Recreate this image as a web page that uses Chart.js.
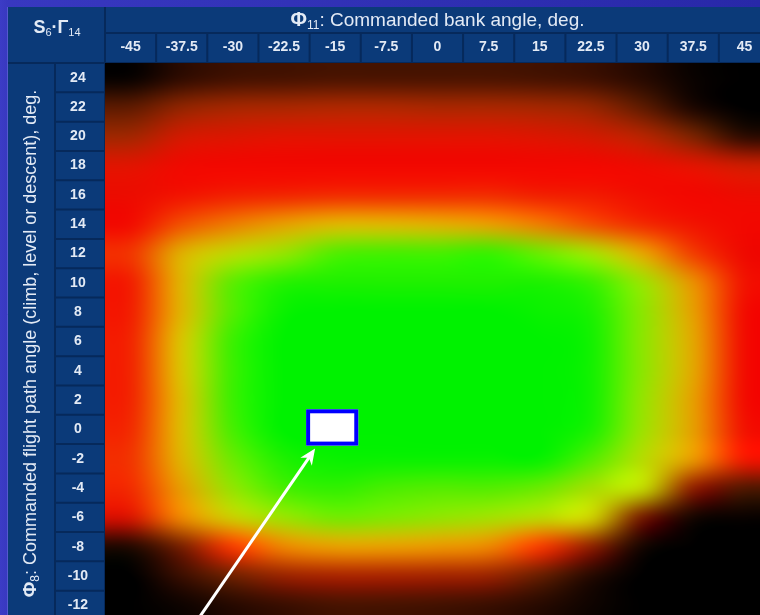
<!DOCTYPE html>
<html>
<head>
<meta charset="utf-8">
<script src="https://cdn.jsdelivr.net/npm/chart.js@4.4.1/dist/chart.umd.min.js"></script>
<style>
  html, body {
    margin: 0; padding: 0; width: 760px; height: 615px; overflow: hidden;
    background: linear-gradient(90deg, #3c3cc6 0px, #3838c0 8px, #2828a8 100%);
  }
  #wrap { position: absolute; left: 0; top: 0; width: 772px; height: 622px; }
</style>
</head>
<body>
<div id="wrap"><canvas id="chart" width="772" height="622"></canvas></div>
<script>
// Φ11: commanded bank angle (columns) and Φ8: commanded flight path angle (rows)
const bankAngles = ['-45', '-37.5', '-30', '-22.5', '-15', '-7.5', '0', '7.5', '15', '22.5', '30', '37.5', '45'];
const pathAngles = ['24', '22', '20', '18', '16', '14', '12', '10', '8', '6', '4', '2', '0', '-2', '-4', '-6', '-8', '-10', '-12'];

// S6·Γ14 score for each cell (0 = worst, 100 = best); one row per flight path angle, columns follow bankAngles
const scores = [
  [ 2, 10, 14, 15, 16, 16, 16, 16, 15, 13,  8,  2,  0],  // 24
  [20, 30, 34, 35, 36, 36, 35, 35, 34, 31, 20,  6,  0],  // 22
  [34, 43, 45, 46, 46, 46, 46, 46, 45, 43, 38, 26, 10],  // 20
  [46, 51, 52, 52, 52, 52, 52, 52, 52, 52, 50, 46, 42],  // 18
  [50, 54, 56, 57, 58, 58, 58, 58, 56, 55, 53, 52, 50],  // 16
  [53, 62, 67, 71, 74, 74, 73, 71, 67, 62, 58, 54, 52],  // 14
  [59, 73, 81, 86, 92, 93, 93, 94, 90, 84, 72, 60, 51],  // 12
  [56, 74, 91, 96, 97, 97, 97, 97, 97, 94, 85, 69, 54],  // 10
  [56, 74, 92, 99,100,100,100,100, 99, 97, 87, 71, 53],  // 8
  [57, 76, 94,100,100,100,100,100,100, 98, 87, 72, 53],  // 6
  [57, 76, 94,100,100,100,100,100,100, 98, 87, 72, 53],  // 4
  [57, 75, 94,100,100,100,100,100,100, 98, 86, 71, 53],  // 2
  [58, 75, 93,100,100,100,100,100,100, 97, 85, 71, 54],  // 0
  [59, 74, 90, 97, 99, 99, 99, 99, 99, 92, 82, 70, 55],  // -2
  [58, 71, 86, 93, 95, 93, 92, 92, 90, 84, 80, 30, 18],  // -4
  [44, 68, 78, 85, 89, 88, 86, 84, 81, 78, 25,  5,  2],  // -6
  [ 8, 26, 60, 68, 71, 71, 70, 68, 60, 30,  5,  0,  0],  // -8
  [ 0, 12, 24, 32, 35, 35, 34, 32, 22,  8,  0,  0,  0],  // -10
  [ 0,  3,  8, 12, 15, 15, 14, 12,  8,  3,  0,  0,  0]   // -12
];

// the selected operating point
const selectedCell = { bank: '-15', path: '0' };

// colour ramp: black → dark red → red → orange → yellow → green
const rampStops  = [0, 12, 24, 36, 46, 52, 58, 64, 70, 76, 82, 88, 94, 100];
const rampColors = [[0,0,0],[58,14,0],[112,32,0],[172,38,0],[224,20,0],[242,8,0],[242,45,0],
                    [240,100,0],[232,150,0],[215,195,0],[180,220,0],[130,232,0],[60,240,0],[0,242,0]];

const FONT = '"Liberation Sans", Arial, Helvetica, sans-serif';
const TEXT = '#e3eaf5';
const HEADER_FILL = '#0b3a79';
const HEADER_LINE = '#06295b';

function rampColor(v) {
  if (v <= rampStops[0]) return rampColors[0].slice();
  for (let i = 1; i < rampStops.length; i++) {
    if (v <= rampStops[i]) {
      const t = (v - rampStops[i - 1]) / (rampStops[i] - rampStops[i - 1]);
      const a = rampColors[i - 1], b = rampColors[i];
      return [a[0] + (b[0] - a[0]) * t, a[1] + (b[1] - a[1]) * t, a[2] + (b[2] - a[2]) * t];
    }
  }
  return rampColors[rampColors.length - 1].slice();
}

const cells = [];
pathAngles.forEach((p, r) => bankAngles.forEach((b, c) => cells.push({ x: b, y: p, v: scores[r][c] })));

function cellGeometry(chart) {
  const { x, y } = chart.scales;
  const colW = x.getPixelForValue(1) - x.getPixelForValue(0);
  const rowH = y.getPixelForValue(1) - y.getPixelForValue(0);
  return { colW, rowH, left: x.getPixelForValue(0) - colW / 2, top: y.getPixelForValue(0) - rowH / 2 };
}

// smooth (bicubic) score surface, built once from the dataset and positioned by the scales
function buildField(chart) {
  const nc = bankAngles.length, nr = pathAngles.length;
  const g = cellGeometry(chart);
  const W = Math.round(nc * g.colW), H = Math.round(nr * g.rowH);
  const grid = Array.from({ length: nr }, () => new Array(nc));
  chart.data.datasets[0].data.forEach(p => {
    grid[pathAngles.indexOf(p.y)][bankAngles.indexOf(p.x)] = rampColor(p.v);
  });
  const taps = (pos, n) => {
    const i = Math.floor(pos), t = pos - i, t2 = t * t, t3 = t2 * t;
    return {
      idx: [i - 1, i, i + 1, i + 2].map(k => Math.min(n - 1, Math.max(0, k))),
      w: [0.5 * (-t3 + 2 * t2 - t), 0.5 * (3 * t3 - 5 * t2 + 2), 0.5 * (-3 * t3 + 4 * t2 + t), 0.5 * (t3 - t2)]
    };
  };
  const colTaps = [], rowTaps = [];
  for (let px = 0; px < W; px++) colTaps.push(taps((px + 0.5) / g.colW - 0.5, nc));
  for (let py = 0; py < H; py++) rowTaps.push(taps((py + 0.5) / g.rowH - 0.5, nr));
  const horiz = grid.map(row => {
    const arr = new Float32Array(W * 3);
    for (let px = 0; px < W; px++) {
      const { idx, w } = colTaps[px];
      for (let ch = 0; ch < 3; ch++) {
        arr[px * 3 + ch] = row[idx[0]][ch] * w[0] + row[idx[1]][ch] * w[1] + row[idx[2]][ch] * w[2] + row[idx[3]][ch] * w[3];
      }
    }
    return arr;
  });
  const off = document.createElement('canvas');
  off.width = W; off.height = H;
  const octx = off.getContext('2d');
  const img = octx.createImageData(W, H);
  for (let py = 0; py < H; py++) {
    const { idx, w } = rowTaps[py];
    const a = horiz[idx[0]], b = horiz[idx[1]], c = horiz[idx[2]], d = horiz[idx[3]];
    for (let px = 0; px < W; px++) {
      const o = (py * W + px) * 4;
      for (let ch = 0; ch < 3; ch++) {
        const k = px * 3 + ch;
        const v = a[k] * w[0] + b[k] * w[1] + c[k] * w[2] + d[k] * w[3];
        img.data[o + ch] = v < 0 ? 0 : v > 255 ? 255 : v;
      }
      img.data[o + 3] = 255;
    }
  }
  octx.putImageData(img, 0, 0);
  return { canvas: off, left: g.left, top: g.top };
}

function drawRich(ctx, parts, x, y, align) {
  let total = 0;
  parts.forEach(p => { ctx.font = p.font; p.w = ctx.measureText(p.t).width; total += p.w; });
  let cx = align === 'center' ? x - total / 2 : x;
  ctx.textAlign = 'left';
  ctx.textBaseline = 'alphabetic';
  parts.forEach(p => { ctx.font = p.font; ctx.fillText(p.t, cx, y + (p.dy || 0)); cx += p.w; });
}

const tablePlugin = {
  id: 'tableFrame',
  beforeDraw(chart) {
    const { ctx, chartArea: a, width, height } = chart;
    const g = cellGeometry(chart);
    const tableLeft = 8, tableTop = 7, titleBottom = 33, yTitleRight = 55;
    ctx.save();
    ctx.fillStyle = HEADER_FILL;
    ctx.fillRect(tableLeft, tableTop, width - tableLeft, height - tableTop);
    ctx.strokeStyle = HEADER_LINE;
    ctx.lineWidth = 2;
    ctx.beginPath();
    ctx.moveTo(a.left, titleBottom); ctx.lineTo(width, titleBottom);
    ctx.moveTo(tableLeft, a.top); ctx.lineTo(width, a.top);
    ctx.moveTo(a.left, tableTop); ctx.lineTo(a.left, height);
    ctx.moveTo(yTitleRight, a.top); ctx.lineTo(yTitleRight, height);
    for (let k = 1; k < bankAngles.length; k++) {
      const xx = g.left + k * g.colW;
      ctx.moveTo(xx, titleBottom); ctx.lineTo(xx, a.top);
    }
    for (let k = 1; k < pathAngles.length; k++) {
      const yy = g.top + k * g.rowH;
      ctx.moveTo(yTitleRight, yy); ctx.lineTo(a.left, yy);
    }
    ctx.stroke();
    ctx.strokeStyle = '#5658cf';
    ctx.lineWidth = 1;
    ctx.beginPath();
    ctx.moveTo(tableLeft - 0.5, tableTop); ctx.lineTo(tableLeft - 0.5, height);
    ctx.stroke();
    ctx.restore();
  },
  beforeDatasetsDraw(chart) {
    if (!chart.$field) chart.$field = buildField(chart);
    const f = chart.$field;
    chart.ctx.drawImage(f.canvas, f.left, f.top);
  },
  afterDatasetsDraw(chart) {
    const { ctx, scales: { x, y } } = chart;
    const g = cellGeometry(chart);
    // selected cell marker
    const cx = x.getPixelForValue(selectedCell.bank) - 3;
    const cy = y.getPixelForValue(selectedCell.path) - 2;
    const w = g.colW + 1, h = g.rowH + 7;
    const rx = cx - w / 2, ry = cy - h / 2;
    ctx.save();
    ctx.fillStyle = '#ffffff';
    ctx.fillRect(rx, ry, w, h);
    ctx.strokeStyle = '#0000ff';
    ctx.lineWidth = 4;
    ctx.strokeRect(rx + 2, ry + 2, w - 4, h - 4);
    // pointer arrow from below
    const tipX = rx + 9, tipY = ry + h + 3;
    const tailX = tipX - 118, tailY = tipY + 172;
    const ang = Math.atan2(tipY - tailY, tipX - tailX);
    const headLen = 16, headHalf = 7;
    const bx = tipX - headLen * Math.cos(ang), by = tipY - headLen * Math.sin(ang);
    ctx.strokeStyle = '#ffffff';
    ctx.lineWidth = 3;
    ctx.beginPath();
    ctx.moveTo(tailX, tailY);
    ctx.lineTo(tipX - 10 * Math.cos(ang), tipY - 10 * Math.sin(ang));
    ctx.stroke();
    ctx.fillStyle = '#ffffff';
    ctx.beginPath();
    ctx.moveTo(tipX, tipY);
    ctx.lineTo(bx - headHalf * Math.sin(ang), by + headHalf * Math.cos(ang));
    ctx.lineTo(tipX - 11 * Math.cos(ang), tipY - 11 * Math.sin(ang));
    ctx.lineTo(bx + headHalf * Math.sin(ang), by - headHalf * Math.cos(ang));
    ctx.closePath();
    ctx.fill();
    ctx.restore();
  },
  afterDraw(chart) {
    const { ctx, chartArea: a } = chart;
    ctx.save();
    ctx.fillStyle = TEXT;
    // column header title
    drawRich(ctx, [
      { t: 'Φ', font: 'bold 20px ' + FONT },
      { t: '11', font: '12px ' + FONT, dy: 3 },
      { t: ': Commanded bank angle, deg.', font: '19px ' + FONT }
    ], (a.left + chart.width) / 2 - 1, 26, 'center');
    // corner label
    drawRich(ctx, [
      { t: 'S', font: 'bold 18px ' + FONT },
      { t: '6', font: '11px ' + FONT, dy: 3 },
      { t: '·', font: 'bold 18px ' + FONT },
      { t: 'Γ', font: 'bold 18px ' + FONT },
      { t: '14', font: '11px ' + FONT, dy: 3 }
    ], 57, 33, 'center');
    // row header title
    ctx.translate(36, (a.top + a.bottom) / 2 + 2);
    ctx.rotate(-Math.PI / 2);
    drawRich(ctx, [
      { t: 'Φ', font: 'bold 19px ' + FONT },
      { t: '8', font: '12px ' + FONT, dy: 3 },
      { t: ': Commanded flight path angle (climb, level or descent), deg.', font: '18px ' + FONT }
    ], 0, 0, 'center');
    ctx.restore();
  }
};

new Chart(document.getElementById('chart'), {
  type: 'scatter',
  data: {
    datasets: [{
      label: 'S6·Γ14',
      data: cells,
      pointRadius: 0,
      pointHoverRadius: 0
    }]
  },
  options: {
    responsive: false,
    animation: false,
    events: [],
    layout: { padding: { top: 7, left: 8, right: 2, bottom: 2 } },
    plugins: { legend: { display: false }, tooltip: { enabled: false } },
    scales: {
      x: {
        type: 'category',
        labels: bankAngles,
        position: 'top',
        offset: true,
        grid: { display: false, drawTicks: false },
        border: { display: false },
        ticks: { color: TEXT, autoSkip: false, maxRotation: 0, padding: 7,
                 font: { family: FONT, size: 14, weight: 'bold' } },
        afterFit(s) { s.height = 56; s.paddingLeft = 0; s.paddingRight = 0; }
      },
      y: {
        type: 'category',
        labels: pathAngles,
        position: 'left',
        offset: true,
        grid: { display: false, drawTicks: false },
        border: { display: false },
        ticks: { color: TEXT, autoSkip: false, crossAlign: 'center', padding: 17,
                 font: { family: FONT, size: 14, weight: 'bold' } },
        afterFit(s) { s.width = 97; s.paddingTop = 0; s.paddingBottom = 0; }
      }
    }
  },
  plugins: [tablePlugin]
});
</script>
</body>
</html>
